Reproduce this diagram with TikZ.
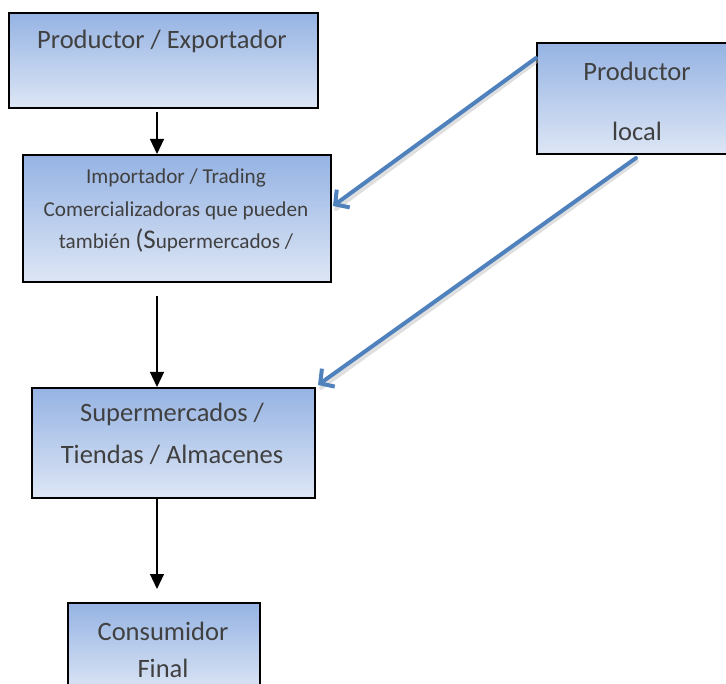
\documentclass[tikz,border=0pt]{standalone}
\usepackage{fontspec}
\setmainfont{Carlito}
\usetikzlibrary{arrows.meta,calc}
\definecolor{txtgray}{HTML}{404040}
\definecolor{boxtop}{HTML}{95B3E3}
\definecolor{boxbot}{HTML}{DDE6F5}
\definecolor{linkblue}{HTML}{4F81BD}
\tikzset{
  flowbox/.style={draw=black, line width=1.6pt, shading=axis, top color=boxtop, bottom color=boxbot, inner sep=0pt},
  boxtext/.style={text=txtgray, align=center, inner sep=0pt},
  flowarrow/.style={draw=black, line width=1.2pt, -{Triangle[length=15pt,width=14pt]}},
  linkarrow/.style={draw=linkblue, line width=4pt, line cap=round, -{Straight Barb[length=10pt,width=22pt,line width=4pt]}},
  linkshadow/.style={draw=black!25, opacity=0.5, line width=4pt, line cap=round},
}
\begin{document}
\begin{tikzpicture}[x=1pt,y=-1pt]
\useasboundingbox (0,0) rectangle (726,684);

% boxes
\node[flowbox, minimum width=309pt, minimum height=95pt, anchor=north west] (exp) at (8,12) {};
\node[flowbox, minimum width=308pt, minimum height=127pt, anchor=north west] (imp) at (22,154) {};
\node[flowbox, minimum width=283pt, minimum height=110pt, anchor=north west] (sup) at (31,387) {};
\node[flowbox, minimum width=192pt, minimum height=90pt, anchor=north west] (con) at (67,602) {};
\node[flowbox, minimum width=192pt, minimum height=111pt, anchor=north west] (loc) at (536,42) {};

% texts
\node[boxtext, font=\fontsize{26.5}{30}\selectfont] (texp) at (162,41) {Productor / Exportador};
\node[boxtext, font=\fontsize{21.2}{32.5}\selectfont] (timp) at (176,211)
  {Importador / Trading\\Comercializadoras que pueden\\también {\fontsize{27}{27}\selectfont(S}upermercados /};
\node[boxtext, font=\fontsize{26.5}{42}\selectfont] (tsup) at (172,434) {Supermercados /\\Tiendas / Almacenes};
\node[boxtext, font=\fontsize{26.5}{37}\selectfont] (tcon) at (163,650) {Consumidor\\Final};
\node[boxtext, font=\fontsize{26.5}{60}\selectfont] (tloc) at (637,101) {Productor\\local};

% vertical flow
\coordinate (a2s) at (157,296);
\coordinate (a3e) at (157,589);
\draw[flowarrow] (exp.south -| 157,0) ++(0,3) -- (imp.north -| 157,0);
\draw[flowarrow] (a2s) -- (sup.north -| 157,0);
\draw[flowarrow] (sup.south -| 157,0) -- (a3e);

% links from the local producer
\coordinate (l1s) at (536,58);
\coordinate (l1e) at (333,206);
\coordinate (l2s) at (636,158);
\coordinate (l2e) at (318,385);
\draw[linkshadow] ($(l1s)+(1,3)$) -- ($(l1e)+(3,3)$);
\draw[linkshadow] ($(l2s)+(1,3)$) -- ($(l2e)+(3,3)$);
\draw[linkarrow] (l1s) -- (l1e);
\draw[linkarrow] (l2s) -- (l2e);
\end{tikzpicture}
\end{document}
